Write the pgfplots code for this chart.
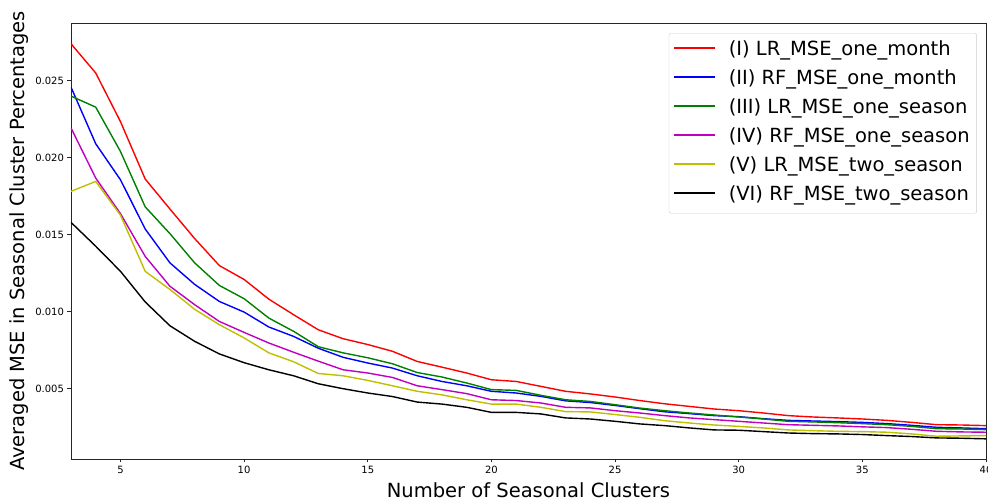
\documentclass[border=0pt]{standalone}
\usepackage{fontspec}
\setmainfont{DejaVu Sans}
\usepackage{pgfplots}
\usepackage{pgfplotstable}
\pgfplotsset{compat=1.18}
\definecolor{lineR}{rgb}{1,0,0}
\definecolor{lineB}{rgb}{0,0,1}
\definecolor{lineG}{rgb}{0,0.5,0}
\definecolor{lineM}{rgb}{0.75,0,0.75}
\definecolor{lineY}{rgb}{0.75,0.75,0}
\definecolor{lineK}{rgb}{0,0,0}
\pgfplotstableread{
x r b g m y k
3 0.0274 0.02458 0.0240 0.02193 0.01781 0.01579
4 0.0255 0.0209 0.02328 0.01867 0.01845 0.01424
5 0.02234 0.01856 0.0204 0.01636 0.01626 0.01261
6 0.01861 0.01536 0.0168 0.01358 0.01261 0.01062
7 0.01666 0.01316 0.01506 0.01164 0.01143 0.00907
8 0.01474 0.01176 0.01316 0.01044 0.01014 0.00806
9 0.01298 0.01065 0.01169 0.00935 0.00914 0.00724
10 0.01208 0.00996 0.01083 0.00864 0.00828 0.00667
11 0.0108 0.00899 0.00957 0.00795 0.00731 0.00621
12 0.00979 0.00838 0.00871 0.00735 0.00673 0.00582
13 0.00881 0.00761 0.00771 0.00677 0.00597 0.0053
14 0.00823 0.00702 0.00731 0.00621 0.00582 0.00498
15 0.00785 0.00665 0.00699 0.006 0.00552 0.0047
16 0.00741 0.00632 0.0066 0.00571 0.00517 0.00447
17 0.00675 0.00582 0.00603 0.00517 0.00481 0.00411
18 0.00638 0.00545 0.00574 0.00492 0.00458 0.00398
19 0.006 0.00517 0.00535 0.00466 0.00426 0.00377
20 0.00556 0.00481 0.00492 0.00426 0.00398 0.00344
21 0.00545 0.0047 0.00487 0.00421 0.00398 0.00344
22 0.00513 0.00448 0.00455 0.00405 0.00377 0.00334
23 0.00481 0.00419 0.00426 0.00377 0.00349 0.00308
24 0.00464 0.00408 0.00415 0.00373 0.00347 0.00301
25 0.00444 0.00389 0.00394 0.00355 0.0033 0.00286
26 0.00421 0.00368 0.00372 0.0034 0.00312 0.00269
27 0.004 0.00348 0.00355 0.00323 0.0029 0.00258
28 0.00383 0.00336 0.0034 0.00308 0.00275 0.00243
29 0.00366 0.00323 0.00327 0.00297 0.00262 0.0023
30 0.00355 0.00316 0.00314 0.00286 0.00253 0.00228
31 0.0034 0.00303 0.00301 0.00275 0.00243 0.00219
32 0.00323 0.00292 0.00286 0.00264 0.0023 0.0021
33 0.00314 0.00288 0.00282 0.0026 0.00225 0.00206
34 0.00308 0.00284 0.00277 0.00256 0.00221 0.00204
35 0.00301 0.00279 0.00271 0.0025 0.00219 0.002
36 0.00292 0.00271 0.00264 0.00245 0.00215 0.00193
37 0.00279 0.0026 0.00253 0.00234 0.00204 0.00187
38 0.00264 0.00247 0.00238 0.00221 0.00189 0.00178
39 0.00262 0.00243 0.00236 0.00217 0.00191 0.00176
40 0.00258 0.00238 0.00232 0.00215 0.00193 0.00172
}\datatable
\begin{document}
\begin{tikzpicture}
\begin{axis}[
  at={(0pt,0pt)}, anchor=south west,
  scale only axis, width=915pt, height=436pt,
  xmin=3, xmax=40, ymin=0.00041, ymax=0.02875,
  axis line style={black!85, line width=0.9pt},
  tick align=outside, tick pos=left,
  major tick length=3.5pt,
  every tick/.style={black!85, line width=0.8pt},
  xtick={5,10,15,20,25,30,35,40},
  ytick={0.005,0.010,0.015,0.020,0.025},
  yticklabels={0.005,0.010,0.015,0.020,0.025},
  scaled y ticks=false,
  /pgf/number format/assume math mode=true,
  ticklabel style={font=\fontsize{10}{12}\selectfont},
  every axis x label/.style={at={([yshift=-38pt]axis description cs:0.5,0)}, anchor=base},
  every axis y label/.style={at={([xshift=-46pt]axis description cs:0,0.5)}, anchor=base, rotate=90},
  label style={font=\fontsize{19.5}{23}\selectfont},
  xlabel={Number of Seasonal Clusters},
  ylabel={Averaged MSE in Seasonal Cluster Percentages},
  legend image code/.code={\draw[#1, line width=1.8pt] (0pt,3pt) -- (41pt,3pt);},
  legend cell align=left,
  legend style={at={(0.990,0.977)}, anchor=north east,
    font=\fontsize{19.5}{23}\selectfont,
    draw=black!20, fill=white,
    rounded corners=2pt, inner xsep=4pt, inner ysep=3pt, row sep=0pt, column sep=10pt,
    nodes={inner xsep=3pt, inner ysep=5pt, text height=14.5pt, text depth=4.5pt}},
]
\addplot[draw=lineR, line width=1.4pt] table[x=x,y=r]{\datatable};
\addlegendentry{(I) LR\_MSE\_one\_month}
\addplot[draw=lineB, line width=1.4pt] table[x=x,y=b]{\datatable};
\addlegendentry{(II) RF\_MSE\_one\_month}
\addplot[draw=lineG, line width=1.4pt] table[x=x,y=g]{\datatable};
\addlegendentry{(III) LR\_MSE\_one\_season}
\addplot[draw=lineM, line width=1.4pt] table[x=x,y=m]{\datatable};
\addlegendentry{(IV) RF\_MSE\_one\_season}
\addplot[draw=lineY, line width=1.4pt] table[x=x,y=y]{\datatable};
\addlegendentry{(V) LR\_MSE\_two\_season}
\addplot[draw=lineK, line width=1.4pt] table[x=x,y=k]{\datatable};
\addlegendentry{(VI) RF\_MSE\_two\_season}
\end{axis}
\pgfresetboundingbox
\useasboundingbox (-71pt,-44pt) rectangle (917pt,459pt);
\end{tikzpicture}
\end{document}
